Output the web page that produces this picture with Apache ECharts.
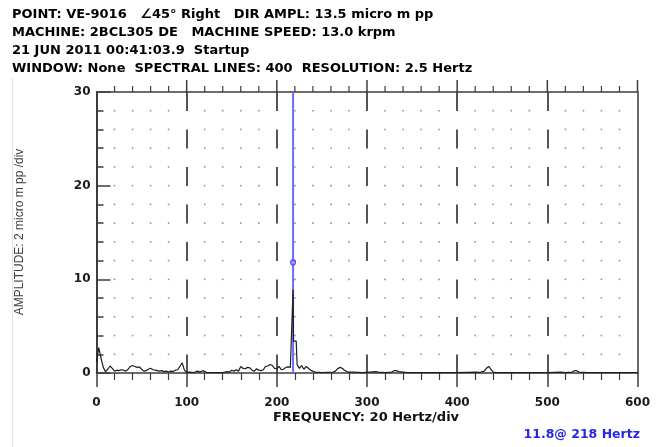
<!DOCTYPE html>
<html>
<head>
<meta charset="utf-8">
<script src="https://cdn.jsdelivr.net/npm/echarts@6/dist/echarts.min.js"></script>
<style>
  html, body { margin: 0; padding: 0; background: #ffffff; }
  #chart { width: 664px; height: 447px; }
</style>
</head>
<body>
<div id="chart"></div>
<script>
// Header block above the plot
const headerLines = [
  'POINT: VE-9016   \u222045\u00b0 Right   DIR AMPL: 13.5 micro m pp',
  'MACHINE: 2BCL305 DE   MACHINE SPEED: 13.0 krpm',
  '21 JUN 2011 00:41:03.9  Startup',
  'WINDOW: None  SPECTRAL LINES: 400  RESOLUTION: 2.5 Hertz'
];
const xAxisTitle = 'FREQUENCY: 20 Hertz/div';
const yAxisTitle = 'AMPLITUDE: 2 micro m pp /div';

// Axis ranges (Hz, micro m pp)
const freqMin = 0, freqMax = 600, freqStep = 100, freqMinorStep = 20;
const ampMin = 0, ampMax = 30, ampStep = 10, ampMinorStep = 2;

// Spectrum samples: frequency (Hz) and amplitude (micro m pp)
const specFreq = [
  0, 2.5, 5, 7.5, 10, 12.5, 15, 17.5, 20, 22.5, 25, 27.5, 30, 32.5, 35, 37.5, 40, 42.5, 45, 47.5,
  50, 52.5, 55, 57.5, 60, 62.5, 65, 67.5, 70, 72.5, 75, 77.5, 80, 82.5, 85, 87.5, 90, 92.5, 95, 97.5,
  100, 103, 108, 112, 115, 118, 120, 122.5, 130, 140, 142.5, 145, 147.5, 150, 152.5, 155, 157.5,
  160, 162.5, 165, 167.5, 170, 172.5, 175, 177.5, 180, 182.5, 185, 187.5, 190, 192.5, 195, 197.5,
  200, 202.5, 205, 207.5, 210, 212.5, 215, 216, 217.5, 218, 218.5, 221.5, 222.5, 225, 227.5, 230,
  232.5, 235, 237.5, 240, 242.5, 250, 262.5, 265, 267.5, 270, 272.5, 275, 277.5, 280, 285, 295,
  310, 312.5, 320, 327.5, 330, 332.5, 335, 345, 360, 380, 400, 422.5, 425, 430, 432.5, 435, 437.5,
  440, 442.5, 460, 480, 500, 515, 520, 527.5, 530, 532.5, 535, 545, 560, 580, 600
];
const specAmp = [
  1.2, 2.7, 1.6, 0.6, 0.15, 0.4, 0.75, 0.5, 0.2, 0.3, 0.25, 0.35, 0.3, 0.2, 0.4, 0.7, 0.8, 0.7, 0.6, 0.65,
  0.4, 0.2, 0.25, 0.4, 0.5, 0.35, 0.3, 0.25, 0.2, 0.25, 0.15, 0.2, 0.1, 0.2, 0.15, 0.3, 0.35, 0.7, 1.1, 0.3,
  0.05, 0.1, 0.05, 0.2, 0.1, 0.25, 0.2, 0.05, 0.05, 0.05, 0.1, 0.15, 0.1, 0.3, 0.2, 0.35, 0.2,
  0.7, 0.5, 0.45, 0.6, 0.55, 0.3, 0.2, 0.45, 0.3, 0.25, 0.35, 0.7, 0.75, 0.9, 0.8, 0.5,
  0.45, 0.7, 0.35, 0.4, 0.6, 0.65, 0.6, 3.4, 3.4, 8.9, 3.4, 3.4, 0.9, 0.5, 0.8, 0.4,
  0.7, 0.5, 0.3, 0.2, 0.1, 0.05, 0.1, 0.2, 0.45, 0.6, 0.5, 0.3, 0.15, 0.1, 0.1, 0.05,
  0.15, 0.1, 0.05, 0.1, 0.25, 0.25, 0.15, 0.05, 0.05, 0.05, 0.05, 0.1, 0.05, 0.2, 0.5, 0.7, 0.4,
  0.1, 0.05, 0.05, 0.05, 0.05, 0.1, 0.05, 0.1, 0.25, 0.25, 0.1, 0.05, 0.05, 0.05, 0.05
];

// Cursor readout
const cursorFreq = 218;
const cursorAmp = 11.8;

const tickFont = 'DejaVu Sans';
const axisColor = '#3c3c3c';
const spectrum = specFreq.map((f, i) => [f, specAmp[i]]);

// Dotted grid at every minor division that is not on a major line
const gridDots = [];
for (let f = freqMin + freqMinorStep; f < freqMax; f += freqMinorStep) {
  if (f % freqStep === 0) continue;
  for (let a = ampMin + ampMinorStep; a < ampMax; a += ampMinorStep) gridDots.push([f, a]);
}
// Tick marks along the top frame (every 20 Hz, longer at each 100 Hz)
const topTicks = [];
for (let f = freqMin + freqMinorStep; f <= freqMax; f += freqMinorStep) topTicks.push([f, ampMax]);

const chart = echarts.init(document.getElementById('chart'), null, { renderer: 'canvas' });

chart.setOption({
  animation: false,
  backgroundColor: '#ffffff',
  grid: { left: 96.5, right: 26.5, top: 92, bottom: 74, containLabel: false },
  xAxis: [
    {
      type: 'value', position: 'bottom', min: freqMin, max: freqMax, interval: freqStep,
      axisLine: { show: true, onZero: false, lineStyle: { color: axisColor, width: 1.5 } },
      axisTick: { show: true, inside: false, length: 14, lineStyle: { color: axisColor, width: 1.5 } },
      minorTick: { show: true, splitNumber: freqStep / freqMinorStep, length: 7, lineStyle: { color: axisColor, width: 1.2 } },
      axisLabel: { show: true, margin: 24, color: '#1a1a1a', fontFamily: tickFont, fontWeight: 'bold', fontSize: 12 },
      splitLine: {
        show: true, showMinLine: false, showMaxLine: false,
        lineStyle: { color: '#555555', width: 2, type: [19, 18.5], dashOffset: 0 }
      },
      minorSplitLine: { show: false }
    },
    {
      type: 'value', position: 'top', min: freqMin, max: freqMax, interval: freqStep,
      axisLine: { show: true, onZero: false, lineStyle: { color: axisColor, width: 1.5 } },
      axisTick: { show: false }, axisLabel: { show: false }, splitLine: { show: false }
    }
  ],
  yAxis: [
    {
      type: 'value', position: 'left', min: ampMin, max: ampMax, interval: ampStep,
      axisLine: { show: true, onZero: false, lineStyle: { color: axisColor, width: 2 } },
      axisTick: { show: true, inside: true, length: 14, lineStyle: { color: axisColor, width: 1.5 } },
      minorTick: { show: true, splitNumber: ampStep / ampMinorStep, length: 7, lineStyle: { color: axisColor, width: 1.5 } },
      axisLabel: { show: true, margin: 6, color: '#1a1a1a', fontFamily: tickFont, fontWeight: 'bold', fontSize: 12 },
      splitLine: { show: false }
    },
    {
      type: 'value', position: 'right', min: ampMin, max: ampMax, interval: ampStep,
      axisLine: { show: true, onZero: false, lineStyle: { color: '#6a6a6a', width: 2 } },
      axisTick: { show: false }, axisLabel: { show: false }, splitLine: { show: false }
    }
  ],
  series: [
    {
      name: 'grid dots', type: 'scatter', silent: true, xAxisIndex: 0, yAxisIndex: 0,
      symbol: 'rect', symbolSize: 1.6, itemStyle: { color: '#7d7d7d' },
      data: gridDots, z: 1
    },
    {
      name: 'top ticks', type: 'custom', silent: true, xAxisIndex: 0, yAxisIndex: 0, clip: false,
      data: topTicks, z: 5,
      renderItem: (params, api) => {
        const f = api.value(0);
        const p = api.coord([f, api.value(1)]);
        const len = f % freqStep === 0 ? 12 : 6;
        return {
          type: 'line',
          shape: { x1: p[0], y1: p[1], x2: p[0], y2: p[1] - len },
          style: { stroke: axisColor, lineWidth: f % freqStep === 0 ? 1.5 : 1.2 }
        };
      }
    },
    {
      name: 'spectrum', type: 'line', xAxisIndex: 0, yAxisIndex: 0,
      showSymbol: false, symbol: 'none', silent: true,
      lineStyle: { color: '#1e1e1e', width: 1.2 },
      data: spectrum, z: 3
    },
    {
      name: 'cursor', type: 'line', xAxisIndex: 0, yAxisIndex: 0,
      showSymbol: false, symbol: 'none', silent: true,
      lineStyle: { color: '#6b6bff', width: 2 },
      data: [[cursorFreq, ampMin], [cursorFreq, ampMax]], z: 2
    },
    {
      name: 'cursor point', type: 'scatter', xAxisIndex: 0, yAxisIndex: 0, silent: true,
      symbol: 'circle', symbolSize: 5,
      itemStyle: { color: '#9a9aff', borderColor: '#3a3aff', borderWidth: 1.2 },
      data: [[cursorFreq, cursorAmp]], z: 4
    }
  ],
  graphic: [
    { type: 'line', silent: true, shape: { x1: 12.5, y1: 78, x2: 12.5, y2: 447 }, style: { stroke: '#e4e4e4', lineWidth: 1 } },
    ...headerLines.map((t, i) => ({
      type: 'text', x: 12, y: 14.5 + i * 18,
      style: { text: t, fill: '#000000', font: 'bold 13px "DejaVu Sans"', textVerticalAlign: 'middle' }
    })),
    {
      type: 'text', x: 20, y: 232, rotation: Math.PI / 2,
      style: { text: yAxisTitle, fill: '#404040', font: '12px "Liberation Sans"', textAlign: 'center', textVerticalAlign: 'middle' }
    },
    {
      type: 'text', x: 366, y: 418,
      style: { text: xAxisTitle, fill: '#111111', font: 'bold 13px "DejaVu Sans"', textAlign: 'center', textVerticalAlign: 'middle' }
    },
    {
      type: 'text', x: 640, y: 435,
      style: { text: cursorAmp.toFixed(1) + '@ ' + cursorFreq + ' Hertz', fill: '#2626e6', font: 'bold 12.5px "DejaVu Sans"', textAlign: 'right', textVerticalAlign: 'middle' }
    }
  ]
});
</script>
</body>
</html>
